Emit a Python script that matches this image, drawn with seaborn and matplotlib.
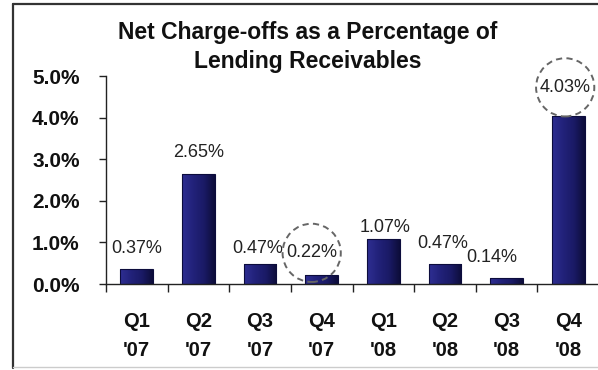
import matplotlib
matplotlib.use("Agg")
import matplotlib.pyplot as plt
from matplotlib.lines import Line2D
from matplotlib.colors import LinearSegmentedColormap
import numpy as np
import seaborn as sns
import pandas as pd

# Quarterly net charge-offs as a percentage of lending receivables
quarters = ["Q1\n'07", "Q2\n'07", "Q3\n'07", "Q4\n'07",
            "Q1\n'08", "Q2\n'08", "Q3\n'08", "Q4\n'08"]
net_chargeoffs = [0.37, 2.65, 0.47, 0.22, 1.07, 0.47, 0.14, 4.03]
y_ticks = [0.0, 1.0, 2.0, 3.0, 4.0, 5.0]
circled = ["Q4\n'07", "Q4\n'08"]
title = "Net Charge-offs as a Percentage of\nLending Receivables"

# label nudges (pixels) relative to each bar top
label_offsets = [(-0.5, 20), (0, 21), (-2, 16), (-10, 22),
                 (2, 11.5), (-2, 21), (-15, 21), (-3, 29)]

sns.set_theme(style="white")
plt.rcParams["font.family"] = ["Liberation Sans", "DejaVu Sans"]

W, H = 598, 370
fig = plt.figure(figsize=(W / 100, H / 100), dpi=100)
fig.patch.set_facecolor("white")

ax_left, ax_right, ax_bottom, ax_top = 106, 599, 284, 76
ax = fig.add_axes([ax_left / W, 1 - ax_bottom / H,
                   (ax_right - ax_left) / W, (ax_bottom - ax_top) / H])
ax.set_facecolor("white")

df = pd.DataFrame({"quarter": quarters, "rate": net_chargeoffs})
sns.barplot(data=df, x="quarter", y="rate", color="#1f1f70", saturation=1,
            width=0.53, edgecolor="#0c0c3c", linewidth=0.8, ax=ax)

ax.set_xlim(-0.5, len(quarters) - 0.5)
ax.set_ylim(0, 5)
ax.set_xlabel("")
ax.set_ylabel("")

# horizontal shading inside each bar: lighter at the left, darker at the right
shade = LinearSegmentedColormap.from_list(
    "bar_shade", ["#2e2e92", "#22227a", "#1a1a66", "#0d0d3a"])
ramp = np.linspace(0, 1, 64).reshape(1, -1)
for bar in list(ax.patches):
    x0, y0 = bar.get_x(), bar.get_y()
    bw, bh = bar.get_width(), bar.get_height()
    img = ax.imshow(ramp, cmap=shade, aspect="auto", interpolation="bilinear",
                    extent=(x0, x0 + bw, y0, y0 + bh), zorder=bar.get_zorder() + 0.1)
    img.set_clip_path(bar)
    bar.set_zorder(bar.get_zorder() + 0.2)
    bar.set_facecolor("none")
ax.set_xlim(-0.5, len(quarters) - 0.5)
ax.set_ylim(0, 5)

for side in ("top", "right"):
    ax.spines[side].set_visible(False)
for side in ("left", "bottom"):
    ax.spines[side].set_color("#222222")
    ax.spines[side].set_linewidth(1.0)
    ax.spines[side].set_zorder(5)

ax.set_yticks(y_ticks)
ax.set_yticklabels([f"{v:.1f}%" for v in y_ticks], fontsize=15,
                   fontweight="bold", color="#111111")
ax.tick_params(axis="y", which="major", direction="out", length=5,
               width=1, color="#222222", left=True, pad=14)

# category labels centred, tick marks between categories
ax.set_xticks(range(len(quarters)))
ax.set_xticklabels(quarters, fontsize=14.5, fontweight="bold",
                   color="#111111", linespacing=1.65)
ax.tick_params(axis="x", which="major", length=0, pad=20)
ax.set_xticks([i - 0.5 for i in range(len(quarters))], minor=True)
ax.tick_params(axis="x", which="minor", direction="out", length=6,
               width=1, color="#222222", bottom=True)

for i, (q, v) in enumerate(zip(quarters, net_chargeoffs)):
    dx, dy = label_offsets[i]
    kw = {}
    if q in circled:
        kw["bbox"] = dict(boxstyle="circle,pad=0.2", fc="none",
                          ec="#666666", ls=(0, (3.2, 2.2)), lw=1.4)
    ax.annotate(f"{v:.2f}%", xy=(i, v), xytext=(dx, dy),
                textcoords="offset pixels", ha="center", va="center",
                fontsize=13, color="#222222", annotation_clip=False,
                zorder=6, **kw)

fig.text(308 / W, 1 - 47 / H, title, ha="center", va="center",
         fontsize=16.5, fontweight="bold", color="#111111", linespacing=1.3)

# frame around the chart
fig.add_artist(Line2D([13 / W, 13 / W], [1 - 368 / H, 1 - 4 / H],
                      transform=fig.transFigure, color="#333333", lw=1.6))
fig.add_artist(Line2D([13 / W, 1], [1 - 4 / H, 1 - 4 / H],
                      transform=fig.transFigure, color="#333333", lw=1.6))
fig.add_artist(Line2D([13 / W, 1], [1 - 367 / H, 1 - 367 / H],
                      transform=fig.transFigure, color="#cccccc", lw=1.0))

fig.savefig("out.png", dpi=100)
